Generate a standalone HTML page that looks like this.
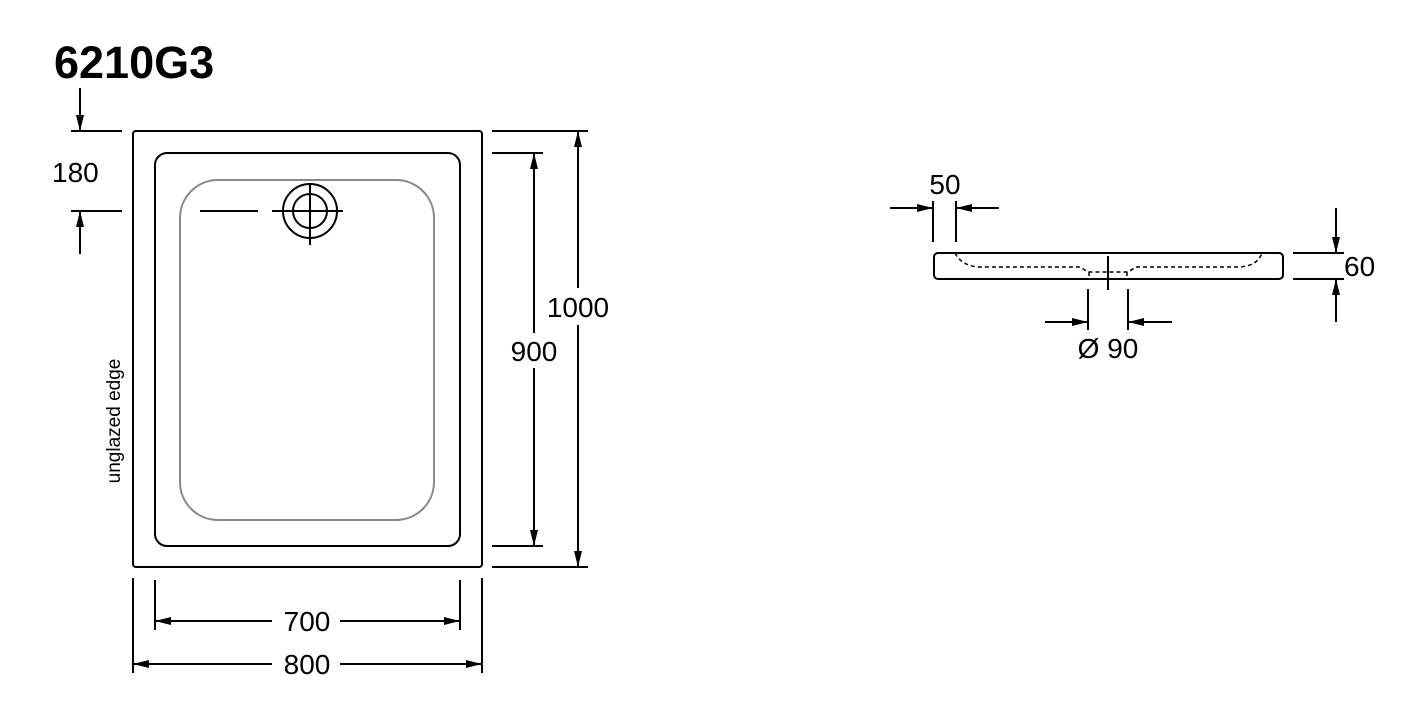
<!DOCTYPE html>
<html><head><meta charset="utf-8"><style>
html,body{margin:0;padding:0;background:#fff;}
svg{display:block;}
text{font-family:"Liberation Sans",Arial,sans-serif;fill:#000;}
</style></head><body>
<svg width="1410" height="715" viewBox="0 0 1410 715" xmlns="http://www.w3.org/2000/svg">
<defs>
<marker id="a" viewBox="0 0 16 8" refX="16" refY="4" markerWidth="16" markerHeight="8" markerUnits="userSpaceOnUse" orient="auto"><path d="M0,0 L16,4 L0,8 z" fill="#000"/></marker>
</defs>
<text x="54" y="78" font-size="45" font-weight="bold">6210G3</text>
<g stroke="#000" stroke-width="2" fill="none">
<rect x="133" y="131" width="349" height="436" rx="3"/>
<rect x="155" y="153" width="305" height="393" rx="12"/>
</g>
<rect x="180" y="180" width="254" height="340" rx="38" stroke="#888" stroke-width="2" fill="none"/>
<g stroke="#000" stroke-width="2" fill="none">
<circle cx="310" cy="211" r="27"/>
<circle cx="310" cy="211" r="17"/>
<line x1="272" y1="211" x2="343" y2="211"/>
<line x1="310" y1="183" x2="310" y2="245"/>
<line x1="200" y1="211" x2="258" y2="211"/>
<line x1="71" y1="131" x2="122" y2="131"/>
<line x1="71" y1="211" x2="122" y2="211"/>
<line x1="80" y1="88" x2="80" y2="131" marker-end="url(#a)"/>
<line x1="80" y1="254" x2="80" y2="211" marker-end="url(#a)"/>
<line x1="492" y1="153" x2="543" y2="153"/>
<line x1="492" y1="546" x2="543" y2="546"/>
<line x1="534" y1="333" x2="534" y2="153" marker-end="url(#a)"/>
<line x1="534" y1="368" x2="534" y2="546" marker-end="url(#a)"/>
<line x1="492" y1="131" x2="588" y2="131"/>
<line x1="492" y1="567" x2="588" y2="567"/>
<line x1="578" y1="288" x2="578" y2="131" marker-end="url(#a)"/>
<line x1="578" y1="325" x2="578" y2="567" marker-end="url(#a)"/>
<line x1="155" y1="580" x2="155" y2="630"/>
<line x1="460" y1="580" x2="460" y2="630"/>
<line x1="272" y1="621" x2="155" y2="621" marker-end="url(#a)"/>
<line x1="340" y1="621" x2="460" y2="621" marker-end="url(#a)"/>
<line x1="133" y1="578" x2="133" y2="673"/>
<line x1="482" y1="578" x2="482" y2="673"/>
<line x1="272" y1="664" x2="133" y2="664" marker-end="url(#a)"/>
<line x1="340" y1="664" x2="482" y2="664" marker-end="url(#a)"/>
</g>
<text x="52" y="182" font-size="28">180</text>
<text x="534" y="361" font-size="28" text-anchor="middle">900</text>
<text x="578" y="317" font-size="28" text-anchor="middle">1000</text>
<text x="307" y="631" font-size="28" text-anchor="middle">700</text>
<text x="307" y="674" font-size="28" text-anchor="middle">800</text>
<text transform="translate(120,421) rotate(-90)" font-size="19" text-anchor="middle">unglazed edge</text>
<g stroke="#000" stroke-width="2" fill="none">
<rect x="934" y="253" width="349" height="26" rx="4"/>
<line x1="1108" y1="256" x2="1108" y2="290"/>
<line x1="933" y1="201" x2="933" y2="242"/>
<line x1="956" y1="201" x2="956" y2="242"/>
<line x1="890" y1="208" x2="933" y2="208" marker-end="url(#a)"/>
<line x1="999" y1="208" x2="956" y2="208" marker-end="url(#a)"/>
<line x1="1088" y1="289" x2="1088" y2="330"/>
<line x1="1128" y1="289" x2="1128" y2="330"/>
<line x1="1045" y1="322" x2="1088" y2="322" marker-end="url(#a)"/>
<line x1="1172" y1="322" x2="1128" y2="322" marker-end="url(#a)"/>
<line x1="1293" y1="253" x2="1344" y2="253"/>
<line x1="1293" y1="279" x2="1344" y2="279"/>
<line x1="1336" y1="208" x2="1336" y2="253" marker-end="url(#a)"/>
<line x1="1336" y1="322" x2="1336" y2="279" marker-end="url(#a)"/>
</g>
<g stroke="#000" stroke-width="1.5" fill="none" stroke-dasharray="4,3">
<path d="M955,253 Q962,267 982,267 L1080,267 L1088,272 L1128,272 L1136,267 L1237,267 Q1257,267 1262,253"/>
<line x1="1089" y1="272" x2="1089" y2="279"/>
<line x1="1127" y1="272" x2="1127" y2="279"/>
</g>
<text x="945" y="194" font-size="28" text-anchor="middle">50</text>
<text x="1344" y="276" font-size="28">60</text>
<text x="1108" y="358" font-size="28" text-anchor="middle">Ø 90</text>
</svg>
</body></html>
